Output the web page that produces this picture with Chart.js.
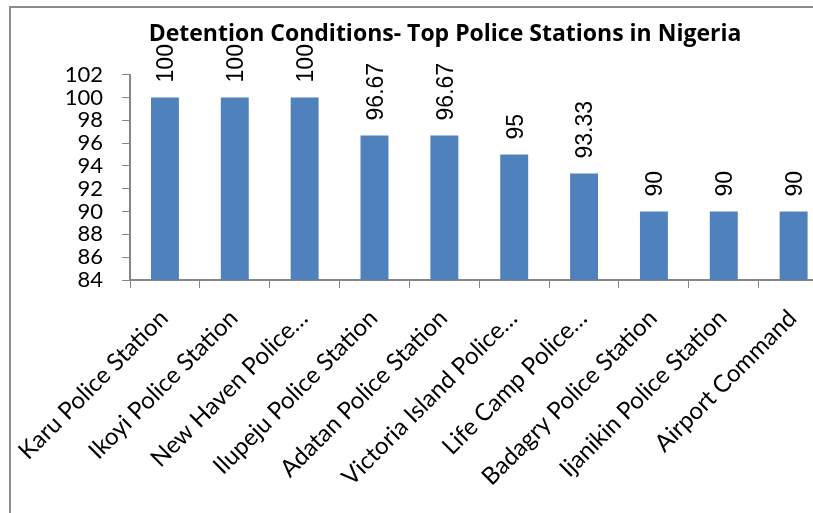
<!DOCTYPE html>
<html>
<head>
<meta charset="utf-8">
<script src="https://cdn.jsdelivr.net/npm/chart.js@4.4.1/dist/chart.umd.min.js"></script>
<style>
	html, body { margin: 0; padding: 0; background: #fff; overflow: hidden; }
	#wrap { position: relative; width: 813px; height: 513px; overflow: hidden; }
	#detention { position: absolute; left: 0; top: 0; }
</style>
</head>
<body>
<div id="wrap">
	<canvas id="detention" width="830" height="513"></canvas>
</div>
<script>
const stations = [
	'Karu Police Station',
	'Ikoyi Police Station',
	'New Haven Police…',
	'Ilupeju Police Station',
	'Adatan Police Station',
	'Victoria Island Police…',
	'Life Camp Police…',
	'Badagry Police Station',
	'Ijanikin Police Station',
	'Airport Command'
];
const scores = [100, 100, 100, 96.67, 96.67, 95, 93.33, 90, 90, 90];
const yMin = 84;
const yMax = 102;
const yStep = 2;

// outer chart frame: only the left and top edges show in the picture
const chartFrame = {
	id: 'chartFrame',
	beforeDraw(chart) {
		const ctx = chart.ctx;
		ctx.save();
		ctx.strokeStyle = '#8c8c8c';
		ctx.lineWidth = 2;
		ctx.beginPath();
		ctx.moveTo(10, 513);
		ctx.lineTo(10, 7);
		ctx.lineTo(chart.width, 7);
		ctx.stroke();
		ctx.restore();
	}
};

// values written above each bar, turned on their side
const barValues = {
	id: 'barValues',
	afterDatasetsDraw(chart) {
		const ctx = chart.ctx;
		const meta = chart.getDatasetMeta(0);
		ctx.save();
		ctx.font = '23px "Liberation Sans", Arial, sans-serif';
		ctx.fillStyle = '#000000';
		ctx.textAlign = 'left';
		ctx.textBaseline = 'middle';
		meta.data.forEach((bar, i) => {
			ctx.save();
			ctx.translate(bar.x + 2, bar.y - 15);
			ctx.rotate(-Math.PI / 2);
			ctx.fillText(String(scores[i]), 0, 0);
			ctx.restore();
		});
		ctx.restore();
	}
};

const data_detention = {
	labels: stations,
	datasets: [
		{
			label: 'Score',
			data: scores,
			backgroundColor: '#4F81BD',
			borderWidth: 0,
			barPercentage: 0.4,
			categoryPercentage: 1
		}
	]
};

const config_detention = {
	type: 'bar',
	data: data_detention,
	plugins: [chartFrame, barValues],
	options: {
		responsive: false,
		animation: false,
		layout: {
			padding: { left: 60, right: 0, top: 0, bottom: 0 }
		},
		plugins: {
			legend: { display: false },
			tooltip: { enabled: false },
			title: {
				display: true,
				text: 'Detention Conditions- Top Police Stations in Nigeria',
				color: '#000000',
				font: { family: '"Open Sans"', size: 23, weight: 'bold' },
				padding: { top: 21, bottom: 26 }
			}
		},
		scales: {
			x: {
				afterFit: (s) => { s.height = 233; },
				grid: {
					offset: true,
					drawOnChartArea: false,
					drawTicks: true,
					tickLength: 8,
					color: '#868686'
				},
				border: { color: '#868686', width: 2 },
				ticks: {
					minRotation: 45,
					maxRotation: 45,
					autoSkip: false,
					color: '#000000',
					padding: 16,
					labelOffset: -1,
					font: { family: 'Lato', size: 24 }
				}
			},
			y: {
				min: yMin,
				max: yMax,
				afterFit: (s) => { s.width = 70; },
				grid: {
					drawOnChartArea: false,
					drawTicks: true,
					tickLength: 8,
					color: '#868686'
				},
				border: { color: '#868686', width: 2 },
				ticks: {
					stepSize: yStep,
					autoSkip: false,
					color: '#000000',
					padding: 19,
					font: { family: 'Lato', size: 22 }
				}
			}
		}
	}
};

const detention = new Chart(
	document.getElementById('detention'),
	config_detention
);
</script>
</body>
</html>
